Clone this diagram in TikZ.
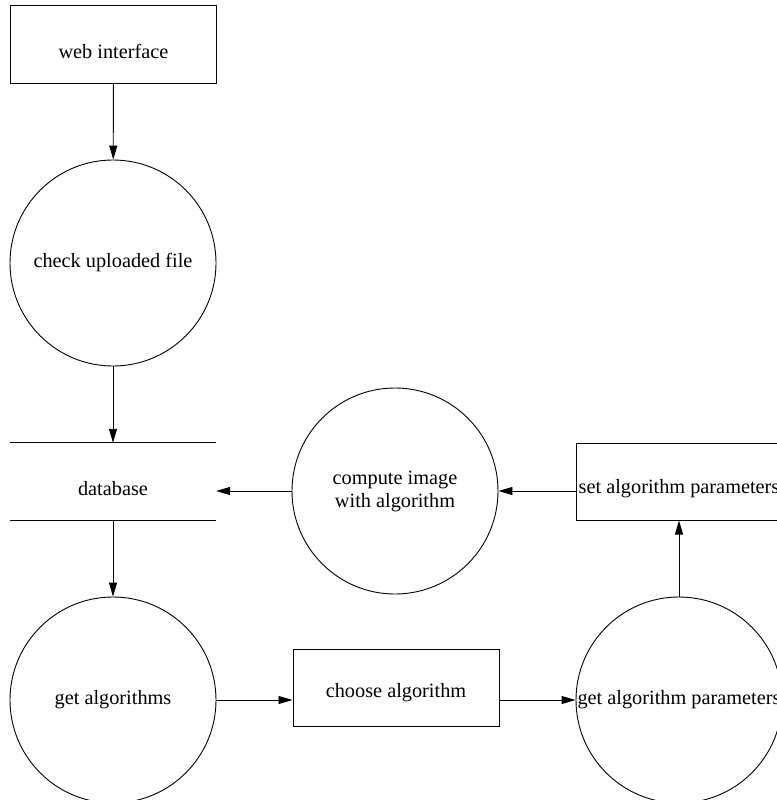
\documentclass[tikz,border=0pt]{standalone}
\usepackage{fontspec}
\setmainfont{Liberation Serif}
\usetikzlibrary{arrows.meta}
\begin{document}
\begin{tikzpicture}[x=1pt,y=-1pt,
  every node/.style={font=\fontsize{20.3}{23}\selectfont, inner sep=0pt, align=center},
  boxnode/.style={draw, line width=1pt, minimum width=206pt, minimum height=77pt},
  procnode/.style={draw, line width=0.9pt, circle, minimum size=206pt},
  storenode/.style={minimum width=206pt, minimum height=77pt},
  lbl/.style={yshift=-7pt},
  flow/.style={line width=0.9pt, -{Triangle[length=14pt,width=8pt]}}
]
\useasboundingbox (0,0) rectangle (776,800);
\node[boxnode] (web) at (113.5,44.5) {};
\node[lbl] (webt) at (web.center) {web interface};
\node[procnode] (check) at (113,263) {check uploaded file};
\node[storenode] (db) at (113,481.5) {};
\node[lbl] (dbt) at (db.center) {database};
\draw[line width=1pt] (db.north west) -- (db.north east);
\draw[line width=1pt] (db.south west) -- (db.south east);
\node[procnode] (compute) at (395,491) {compute image\\with algorithm};
\node[boxnode] (setp) at (679,481.5) {};
\node[lbl] (setpt) at (setp.center) {set algorithm parameters};
\node[procnode] (getalg) at (113,700) {get algorithms};
\node[boxnode] (choose) at (396,687.5) {};
\node[lbl, yshift=1.5pt] (chooset) at (choose.center) {choose algorithm};
\node[procnode] (getp) at (679,700) {get algorithm parameters};
\draw[flow] (web) -- (check);
\draw[flow] (check) -- (db);
\draw[flow] (compute.west) -- (db.east |- compute.west);
\draw[flow] (setp.west |- compute.east) -- (compute.east);
\draw[flow] (getp) -- (setp);
\draw[flow] (db) -- (getalg);
\draw[flow] (getalg.east) -- (choose.west |- getalg.east);
\draw[flow] (choose.east |- getp.west) -- (getp.west);
\end{tikzpicture}
\end{document}
